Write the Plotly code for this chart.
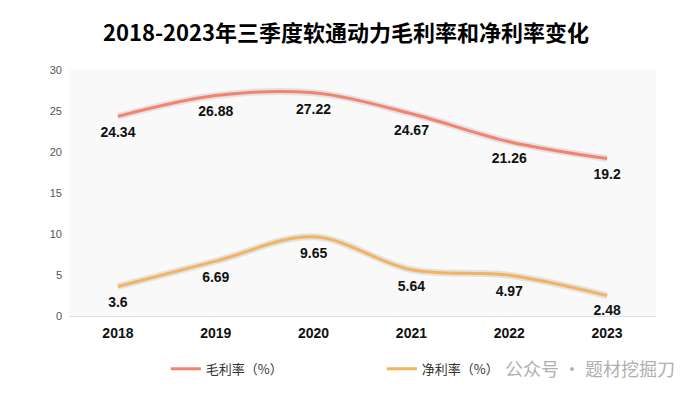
import plotly.graph_objects as go

years = ["2018", "2019", "2020", "2021", "2022", "2023"]
gross_margin = [24.34, 26.88, 27.22, 24.67, 21.26, 19.2]
net_margin = [3.6, 6.69, 9.65, 5.64, 4.97, 2.48]
series_names = ["毛利率（%）", "净利率（%）"]
y_ticks = [0, 5, 10, 15, 20, 25, 30]

colors = ["#F4826F", "#F4B35E"]
num_font = dict(family="Liberation Sans, Arial, sans-serif", size=14, color="#111111", weight="bold")

# invisible marker sizes control the gap between line and value label
label_gap = [[15] * 6, [15] * 5 + [12]]

fig = go.Figure()
for name, vals, c, gap in zip(series_names, [gross_margin, net_margin], colors, label_gap):
    # faint shadow
    fig.add_trace(go.Scatter(
        x=years, y=vals, mode="lines", showlegend=False, hoverinfo="skip",
        line=dict(color="rgba(0,0,0,0.09)", width=7, shape="spline", smoothing=1.0),
    ))
    fig.add_trace(go.Scatter(
        x=years, y=vals, name=name, mode="lines+markers+text",
        text=[str(v) for v in vals], textposition="bottom center",
        textfont=num_font, cliponaxis=False,
        marker=dict(size=gap, color="rgba(0,0,0,0)", opacity=0,
                    line=dict(width=0, color="rgba(0,0,0,0)")),
        line=dict(color=c, width=3, shape="spline", smoothing=1.0),
    ))

fig.update_layout(
    width=692, height=403,
    margin=dict(l=69, r=36, t=70, b=87),
    paper_bgcolor="white",
    plot_bgcolor="#f9f9f9",
    title=dict(text="2018-2023年三季度软通动力毛利率和净利率变化", x=0.5, xanchor="center",
               y=0.918, yanchor="middle",
               font=dict(family="Noto Sans CJK SC", size=22, color="#000000", weight="bold")),
    xaxis=dict(type="category", range=[-0.5, 5.5], showgrid=False, zeroline=False,
               showline=True, linecolor="#e0e0e0", linewidth=1, ticks="",
               ticklabelstandoff=4, tickfont=num_font),
    yaxis=dict(range=[0, 30], tickvals=y_ticks, showgrid=False, zeroline=False,
               showline=False, ticks="", ticklabelstandoff=6,
               tickfont=dict(family="Liberation Sans, Arial, sans-serif", size=11, color="#555555")),
    legend=dict(orientation="h", x=0.165, xanchor="left", y=-0.215, yanchor="middle",
                entrywidth=171, entrywidthmode="pixels", itemclick=False,
                font=dict(family="Noto Sans CJK SC", size=13, color="#333333")),
    showlegend=True,
)

fig.add_annotation(text="公众号 · 题材挖掘刀", xref="paper", yref="paper",
                   x=1.036, y=-0.21, xanchor="right", yanchor="middle", showarrow=False,
                   font=dict(family="Noto Sans CJK SC", size=18, color="#b0b0b0"))

fig.write_html("out.html", config={"displayModeBar": False},
               post_script="document.body.style.margin='0';document.body.style.padding='0';")
